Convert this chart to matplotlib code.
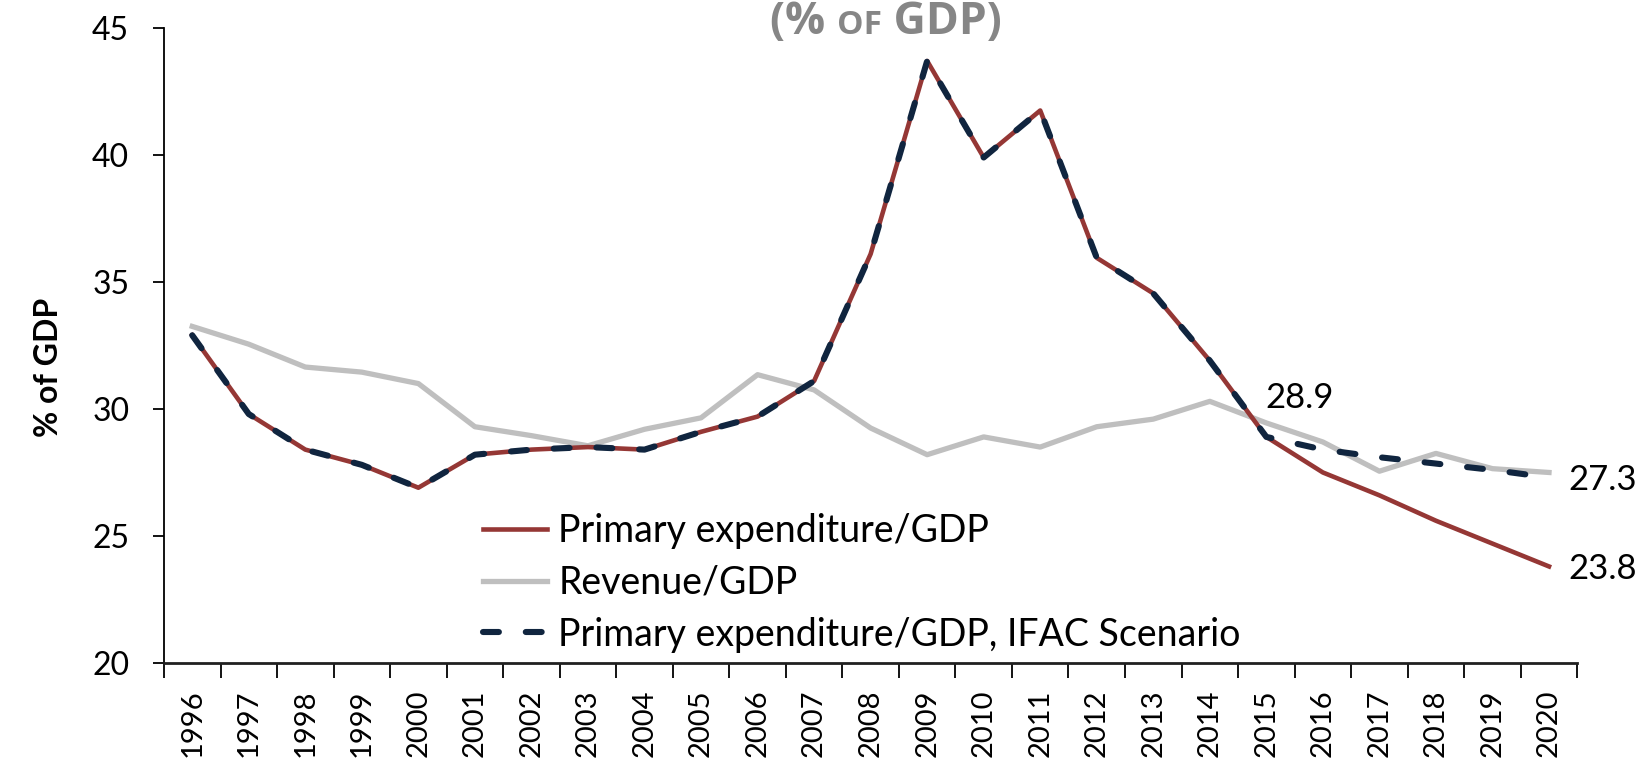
import matplotlib
matplotlib.use("Agg")
import matplotlib.pyplot as plt
import numpy as np

# data
years = [str(y) for y in range(1996, 2021)]
primary_exp = [32.9, 29.8, 28.4, 27.8, 26.9, 28.2, 28.4, 28.5, 28.4, 29.1, 29.7, 31.1,
               36.1, 43.7, 39.9, 41.75, 35.95, 34.55, 31.9, 28.9, 27.5, 26.6, 25.6, 24.7, 23.8]
revenue = [33.25, 32.55, 31.65, 31.45, 31.0, 29.3, 28.95, 28.55, 29.2, 29.65, 31.35, 30.75,
           29.25, 28.2, 28.9, 28.5, 29.3, 29.6, 30.3, 29.45, 28.7, 27.55, 28.25, 27.65, 27.5]
ifac_scenario = [32.9, 29.8, 28.4, 27.8, 26.9, 28.2, 28.4, 28.5, 28.4, 29.1, 29.7, 31.1,
                 36.1, 43.7, 39.9, 41.75, 35.95, 34.55, 31.9, 28.9, 28.4, 28.1, 27.85, 27.6, 27.3]

plt.rcParams['font.family'] = ['Lato', 'DejaVu Sans']

fig = plt.figure(figsize=(16.43, 7.67), dpi=100)
ax = fig.add_axes([0.0998, 0.1356, 0.8602, 0.828])

x = np.arange(len(years))
ax.plot(x, revenue, color='#BFBFBF', lw=3.8, label='Revenue/GDP', zorder=2)
ax.plot(x, primary_exp, color='#953735', lw=3.3, label='Primary expenditure/GDP', zorder=3)
ax.plot(x, ifac_scenario, color='#10253F', lw=4.4, ls=(0, (2.6, 4.4)), dash_capstyle='round',
        label='Primary expenditure/GDP, IFAC Scenario', zorder=4)

ax.set_xlim(-0.5, len(years) - 0.5)
ax.set_ylim(20, 45)
ax.set_yticks([20, 25, 30, 35, 40, 45])
ax.tick_params(axis='y', labelsize=23, length=8, width=1.3, direction='out', pad=17)

# category ticks between the years, labels centred
ax.set_xticks(np.arange(-0.5, len(years)), minor=False)
ax.set_xticklabels([])
ax.set_xticks(x, minor=True)
ax.set_xticklabels(years, minor=True, rotation=90, fontsize=21)
ax.tick_params(axis='x', which='major', length=11, width=1.3)
ax.tick_params(axis='x', which='minor', length=0, pad=19)

for s in ['top', 'right']:
    ax.spines[s].set_visible(False)
ax.spines['left'].set_linewidth(1.3)
ax.spines['bottom'].set_linewidth(2.0)
ax.spines['bottom'].set_color('#202020')

ax.set_ylabel('% of GDP', fontsize=23, fontweight='bold')
ax.yaxis.set_label_coords(-0.0714, 0.466)

# value labels
ax.text(18.98, 30.45, '28.9', fontsize=25, ha='left', va='center')
ax.text(24.34, 27.22, f'{ifac_scenario[-1]:.1f}', fontsize=25, ha='left', va='center', clip_on=False)
ax.text(24.34, 23.7, f'{primary_exp[-1]:.1f}', fontsize=25, ha='left', va='center', clip_on=False)

h, l = ax.get_legend_handles_labels()
order = [1, 0, 2]
ax.legend([h[i] for i in order], [l[i] for i in order], loc='upper left',
          bbox_to_anchor=(0.226, 0.236), frameon=False, fontsize=27,
          handlelength=1.7, handletextpad=0.3, labelspacing=0.42,
          borderpad=0, borderaxespad=0)

# small-caps style title, cut off at the top like the source
fig.canvas.draw()
r = fig.canvas.get_renderer()
parts = [('(% ', 32), ('OF', 24), (' GDP)', 32)]
widths = []
for txt, size in parts:
    t = fig.text(0, 0, txt, fontsize=size, fontweight='bold', family='Open Sans')
    widths.append(t.get_window_extent(r).width)
    t.remove()
xpos = 886 - sum(widths) / 2
for (txt, size), w in zip(parts, widths):
    fig.text(xpos / 1643, 0.956, txt, fontsize=size, fontweight='bold', color='#868686',
             family='Open Sans', va='baseline', ha='left')
    xpos += w

fig.savefig('out.png', dpi=100)
